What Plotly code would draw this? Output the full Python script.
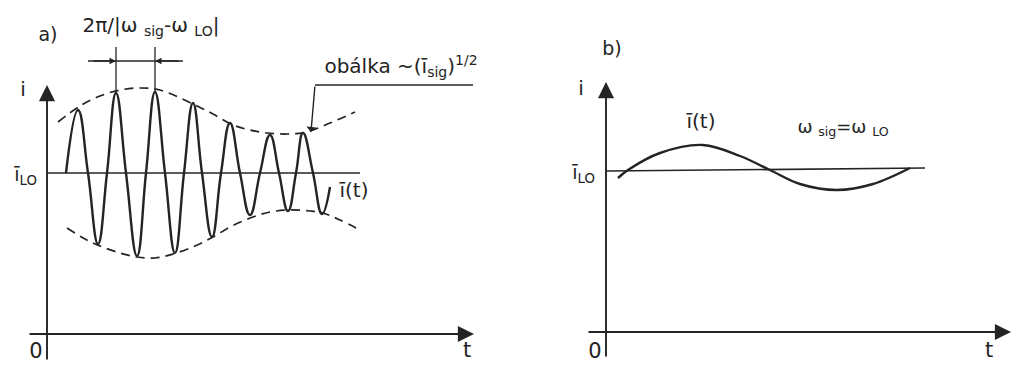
import plotly.graph_objects as go

# ---------------- data (pixel coords, y downwards) ----
# panel a) : i(t) beat signal, extrema and baseline crossings
a_curve_x = [66, 78, 88, 98, 107, 116, 126, 137, 146, 155, 165, 175, 184,
             193, 202, 212, 221, 230, 240, 250, 260, 270, 279, 288, 296,
             303, 313, 322, 330]
a_curve_y = [173, 110, 173, 244, 173, 93, 173, 256, 173, 92, 173, 253, 173,
             103, 173, 237, 173, 123, 173, 215, 173, 135, 173, 211, 173,
             133, 173, 214, 187]
# envelope (dashed)
a_env_up_x = [58, 80, 100, 120, 140, 160, 193, 213, 233, 250, 267, 288, 307, 330, 355]
a_env_up_y = [122, 106, 96, 90, 88, 90, 104, 114, 125, 130, 133, 134, 132, 123, 112]
a_env_lo_x = [67, 85, 100, 120, 137, 155, 173, 195, 213, 232, 253, 270, 288, 310, 323, 340, 360]
a_env_lo_y = [228, 239, 246, 253, 257, 258, 254, 246, 237, 226, 217, 212, 210, 211, 213, 220, 230]
# panel b) : omega_sig = omega_LO
b_curve_x = [618, 628, 660, 703, 740, 770, 800, 837, 873, 910]
b_curve_y = [178, 170, 153, 145, 156, 170, 184, 190, 184, 168]

# ---------------- geometry of the drawing -----------------------------------
W, H = 1012, 367
INK = "#242424"
FONT = "DejaVu Sans"

A_YAX_X, A_YAX_BOT, A_YAX_TOP = 47, 361, 85
A_XAX_Y, A_XAX_L, A_XAX_R = 334, 28, 474
A_BASE_Y, A_BASE_L, A_BASE_R = 173, 47, 360
B_YAX_X, B_YAX_BOT, B_YAX_TOP = 606, 358, 82
B_XAX_Y, B_XAX_L, B_XAX_R = 332, 587, 1011
B_BASE_L, B_BASE_R = (606, 171), (925, 168)

fig = go.Figure()


def line(xs, ys, width=1.6, dash=None, shape="linear", smoothing=1.0):
    fig.add_trace(go.Scatter(
        x=xs, y=ys, mode="lines",
        line=dict(color=INK, width=width, dash=dash, shape=shape,
                  smoothing=smoothing),
        hoverinfo="skip", showlegend=False))


def arrow(x0, y0, x1, y1, head=2, size=1.0, width=1.6):
    fig.add_annotation(x=x1, y=y1, ax=x0, ay=y0, xref="x", yref="y",
                       axref="x", ayref="y", text="", showarrow=True,
                       arrowhead=head, arrowsize=size, arrowwidth=width,
                       arrowcolor=INK)


def label(x, y, text, size=20, pos="middle center"):
    fig.add_trace(go.Scatter(
        x=[x], y=[y], mode="text", text=[text], textposition=pos,
        textfont=dict(family=FONT, size=size, color=INK),
        hoverinfo="skip", showlegend=False))


# ---------------- panel a ---------------------------------------------------
arrow(A_YAX_X, A_YAX_BOT, A_YAX_X, A_YAX_TOP, head=2, size=1.7, width=1.9)
arrow(A_XAX_L, A_XAX_Y, A_XAX_R, A_XAX_Y, head=2, size=1.7, width=1.9)
line([A_BASE_L, A_BASE_R], [A_BASE_Y, A_BASE_Y], width=1.7)
line(a_env_up_x, a_env_up_y, width=1.7, dash="9px,6px", shape="spline")
line(a_env_lo_x, a_env_lo_y, width=1.7, dash="9px,6px", shape="spline")
line(a_curve_x, a_curve_y, width=2.4, shape="spline", smoothing=1.3)

# beat period marker
line([116, 116], [47, 93], width=1.3)
line([155, 155], [47, 92], width=1.3)
line([88, 183], [61, 61], width=1.3)
arrow(92, 61, 116, 61, head=2, size=1.0, width=1.3)
arrow(180, 61, 155, 61, head=2, size=1.0, width=1.3)

# leader to envelope
line([473, 315], [85, 85], width=1.4)
arrow(315, 85, 311, 132, head=1, size=1.2, width=1.4)

label(48, 36, "a)", size=19)
label(151, 27, "2π/|ω <sub>sig</sub>-ω <sub>LO</sub>|", size=20)
label(401, 68, "obálka ~(ī<sub>sig</sub>)<sup>1/2</sup>", size=20)
label(354, 192, "ī(t)", size=20)
label(23, 91, "i", size=20)
label(37, 176, "ī<sub>LO</sub>", size=19, pos="middle left")
label(36, 353, "0", size=21)
label(467, 352, "t", size=21)

# ---------------- panel b ---------------------------------------------------
arrow(B_YAX_X, B_YAX_BOT, B_YAX_X, B_YAX_TOP, head=2, size=1.7, width=1.9)
arrow(B_XAX_L, B_XAX_Y, B_XAX_R, B_XAX_Y, head=2, size=1.7, width=1.9)
line([B_BASE_L[0], B_BASE_R[0]], [B_BASE_L[1], B_BASE_R[1]], width=1.7)
line(b_curve_x, b_curve_y, width=2.4, shape="spline")

label(612, 50, "b)", size=19)
label(701, 123, "ī(t)", size=20)
label(843, 128, "ω <sub>sig</sub>=ω <sub>LO</sub>", size=18)
label(581, 90, "i", size=20)
label(595, 174, "ī<sub>LO</sub>", size=19, pos="middle left")
label(595, 353, "0", size=21)
label(989, 352, "t", size=21)

fig.update_layout(
    width=W, height=H, margin=dict(l=0, r=0, t=0, b=0),
    paper_bgcolor="white", plot_bgcolor="white",
    font=dict(family=FONT, size=20, color=INK),
    xaxis=dict(range=[0, W], visible=False, fixedrange=True),
    yaxis=dict(range=[H, 0], visible=False, fixedrange=True),
)

fig.write_html("out.html", config={"displayModeBar": False},
               post_script="document.body.style.margin='0';"
                           "document.body.style.overflow='hidden';")
